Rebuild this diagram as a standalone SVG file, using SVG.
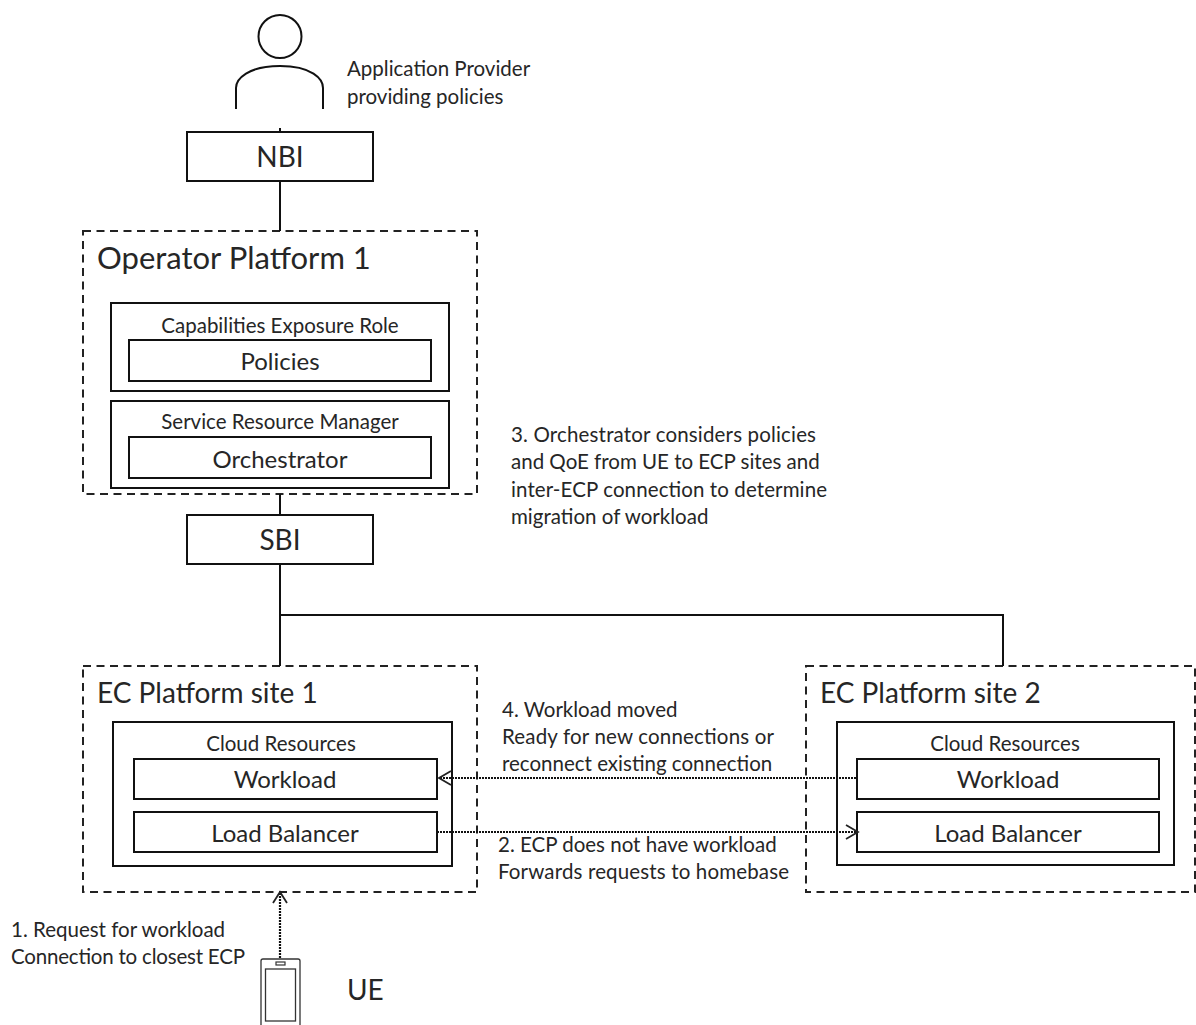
<svg xmlns="http://www.w3.org/2000/svg" width="1196" height="1025" viewBox="0 0 1196 1025">
<style>
text{font-family:"Lato","Noto Sans",sans-serif;fill:#262626}
.s{font-size:20.5px}
.m{font-size:24px}
.t{font-size:28px}
.w{font-size:31px}
.c{text-anchor:middle}
.b{fill:#fff;stroke:#111;stroke-width:2}
.d{fill:none;stroke:#222;stroke-width:2;stroke-dasharray:8 5.5}
.l{fill:none;stroke:#111;stroke-width:2}
.o{fill:none;stroke:#111;stroke-width:2.2;stroke-dasharray:2 1}
.h{fill:none;stroke:#222;stroke-width:1.8}
</style>
<g id="provider">
<circle class="l" cx="280" cy="36.500" r="21.500"/>
<path class="l" d="M236 109V88C236 79 248 66 280 66C312 66 323 79 323 88V109"/>
<text class="s" x="347" y="76">Application Provider</text>
<text class="s" x="347" y="104">providing policies</text>
</g>
<g id="nbi">
<rect class="b" x="187" y="132" width="186" height="49"/>
<text class="t c" x="280" y="167">NBI</text>
</g>
<g id="operator-platform">
<rect class="d" x="83" y="231" width="394" height="263"/>
<text class="w" x="97" y="269">Operator Platform 1</text>
<rect class="b" x="111" y="303" width="338" height="88"/>
<text class="s c" x="280" y="333">Capabilities Exposure Role</text>
<rect class="b" x="129" y="340" width="302" height="41"/>
<text class="m c" x="280" y="370">Policies</text>
<rect class="b" x="111" y="401" width="338" height="87"/>
<text class="s c" x="280" y="429">Service Resource Manager</text>
<rect class="b" x="129" y="437" width="302" height="41"/>
<text class="m c" x="280" y="468">Orchestrator</text>
</g>
<g id="sbi">
<rect class="b" x="187" y="515" width="186" height="49"/>
<text class="t c" x="280" y="550">SBI</text>
</g>
<g id="ec-site-1">
<rect class="d" x="83" y="666" width="394" height="226"/>
<text class="t" x="97" y="703">EC Platform site 1</text>
<rect class="b" x="113" y="722" width="339" height="144"/>
<text class="s c" x="281" y="751">Cloud Resources</text>
<rect class="b" x="134" y="759" width="303" height="40"/>
<text class="m c" x="285" y="788">Workload</text>
<rect class="b" x="134" y="812" width="303" height="40"/>
<text class="m c" x="285" y="842">Load Balancer</text>
</g>
<g id="ec-site-2">
<rect class="d" x="806" y="666" width="389" height="226"/>
<text class="t" x="820" y="703">EC Platform site 2</text>
<rect class="b" x="837" y="722" width="337" height="143"/>
<text class="s c" x="1005" y="751">Cloud Resources</text>
<rect class="b" x="857" y="759" width="302" height="40"/>
<text class="m c" x="1008" y="788">Workload</text>
<rect class="b" x="857" y="812" width="302" height="40"/>
<text class="m c" x="1008" y="842">Load Balancer</text>
</g>
<g id="ue">
<rect x="261" y="959" width="39" height="70" rx="2" fill="none" stroke="#333" stroke-width="1.300"/>
<rect x="265.500" y="969" width="30" height="52" fill="none" stroke="#333" stroke-width="1.300"/>
<rect x="276" y="962" width="9" height="3" fill="none" stroke="#333" stroke-width="1.200"/>
<text class="t" x="347" y="1000">UE</text>
</g>
<g id="connectors">
<path class="l" d="M280 128V132M280 181V231M280 494V515M280 564V666M280 615H1003V666"/>
<path class="o" d="M856 778H440"/>
<path class="h" d="M451 771L439 778L451 785"/>
<path class="o" d="M437 832H856"/>
<path class="h" d="M846 825L858 832L846 839"/>
<path class="o" d="M280 958V893"/>
<path class="h" d="M273 903L280 892L287 903"/>
</g>
<g id="labels">
<text class="s" x="511" y="442" textLength="305">3. Orchestrator considers policies</text>
<text class="s" x="511" y="469">and QoE from UE to ECP sites and</text>
<text class="s" x="511" y="497" textLength="316">inter-ECP connection to determine</text>
<text class="s" x="511" y="524">migration of workload</text>
<text class="s" x="502" y="717">4. Workload moved</text>
<text class="s" x="502" y="744" textLength="272">Ready for new connections or</text>
<text class="s" x="502" y="771">reconnect existing connection</text>
<text class="s" x="498" y="852">2. ECP does not have workload</text>
<text class="s" x="498" y="879" textLength="291">Forwards requests to homebase</text>
<text class="s" x="11" y="937">1. Request for workload</text>
<text class="s" x="11" y="964" textLength="234">Connection to closest ECP</text>
</g>
</svg>
